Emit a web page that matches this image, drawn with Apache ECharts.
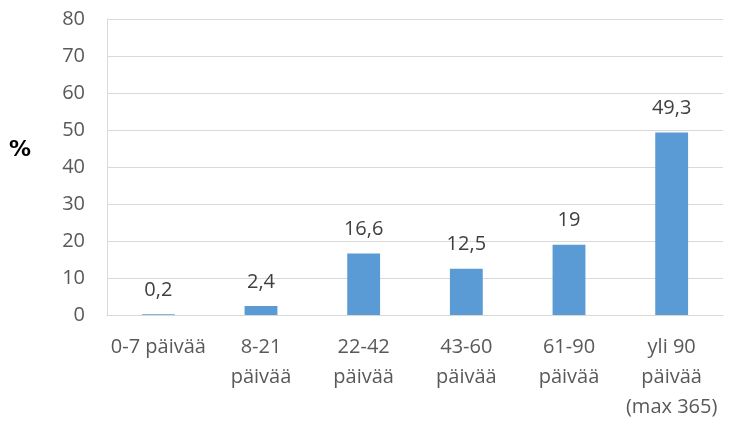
<!DOCTYPE html>
<html><head><meta charset="utf-8">
<script src="https://cdn.jsdelivr.net/npm/echarts@6/dist/echarts.min.js"></script>
<style>html,body{margin:0;padding:0;background:#fff;overflow:hidden}#c{width:733px;height:422px}</style>
</head><body><div id="c"></div>
<script>
const categories = ["0-7 päivää", "8-21\npäivää", "22-42\npäivää", "43-60\npäivää", "61-90\npäivää", "yli 90\npäivää\n(max 365)"];
const values = [0.2, 2.4, 16.6, 12.5, 19, 49.3];
const yTicks = { min: 0, max: 80, interval: 10 };
const yName = "%";

const FONT = "'Open Sans', sans-serif";
const chart = echarts.init(document.getElementById('c'), null, { renderer: 'canvas' });
chart.setOption({
  animation: false,
  grid: { left: 107, right: 10, top: 19, bottom: 102, containLabel: false },
  xAxis: {
    type: 'category', data: categories,
    axisLine: { lineStyle: { color: '#d9d9d9', width: 1 } },
    axisTick: { show: false },
    axisLabel: { interval: 0, color: '#595959', fontSize: 20, fontFamily: FONT, lineHeight: 30, margin: 17 }
  },
  yAxis: {
    type: 'value', min: yTicks.min, max: yTicks.max, interval: yTicks.interval,
    axisLine: { show: true, lineStyle: { color: '#d9d9d9', width: 1 } },
    axisTick: { show: false },
    splitLine: { lineStyle: { color: '#d9d9d9', width: 1 } },
    axisLabel: { color: '#595959', fontSize: 20, fontFamily: FONT, margin: 22 }
  },
  graphic: [{ type: 'text', left: 9, top: 139, style: { text: yName, fontSize: 22, fontWeight: 'bold', fill: '#000', fontFamily: "'DejaVu Sans', sans-serif" } }],
  series: [{
    type: 'bar', data: values, barWidth: '32%',
    itemStyle: { color: '#5b9bd5' },
    label: { show: true, position: 'top', distance: 14, color: '#404040', fontSize: 20, fontFamily: FONT,
      formatter: p => String(p.value).replace('.', ',') }
  }]
});
</script></body></html>
